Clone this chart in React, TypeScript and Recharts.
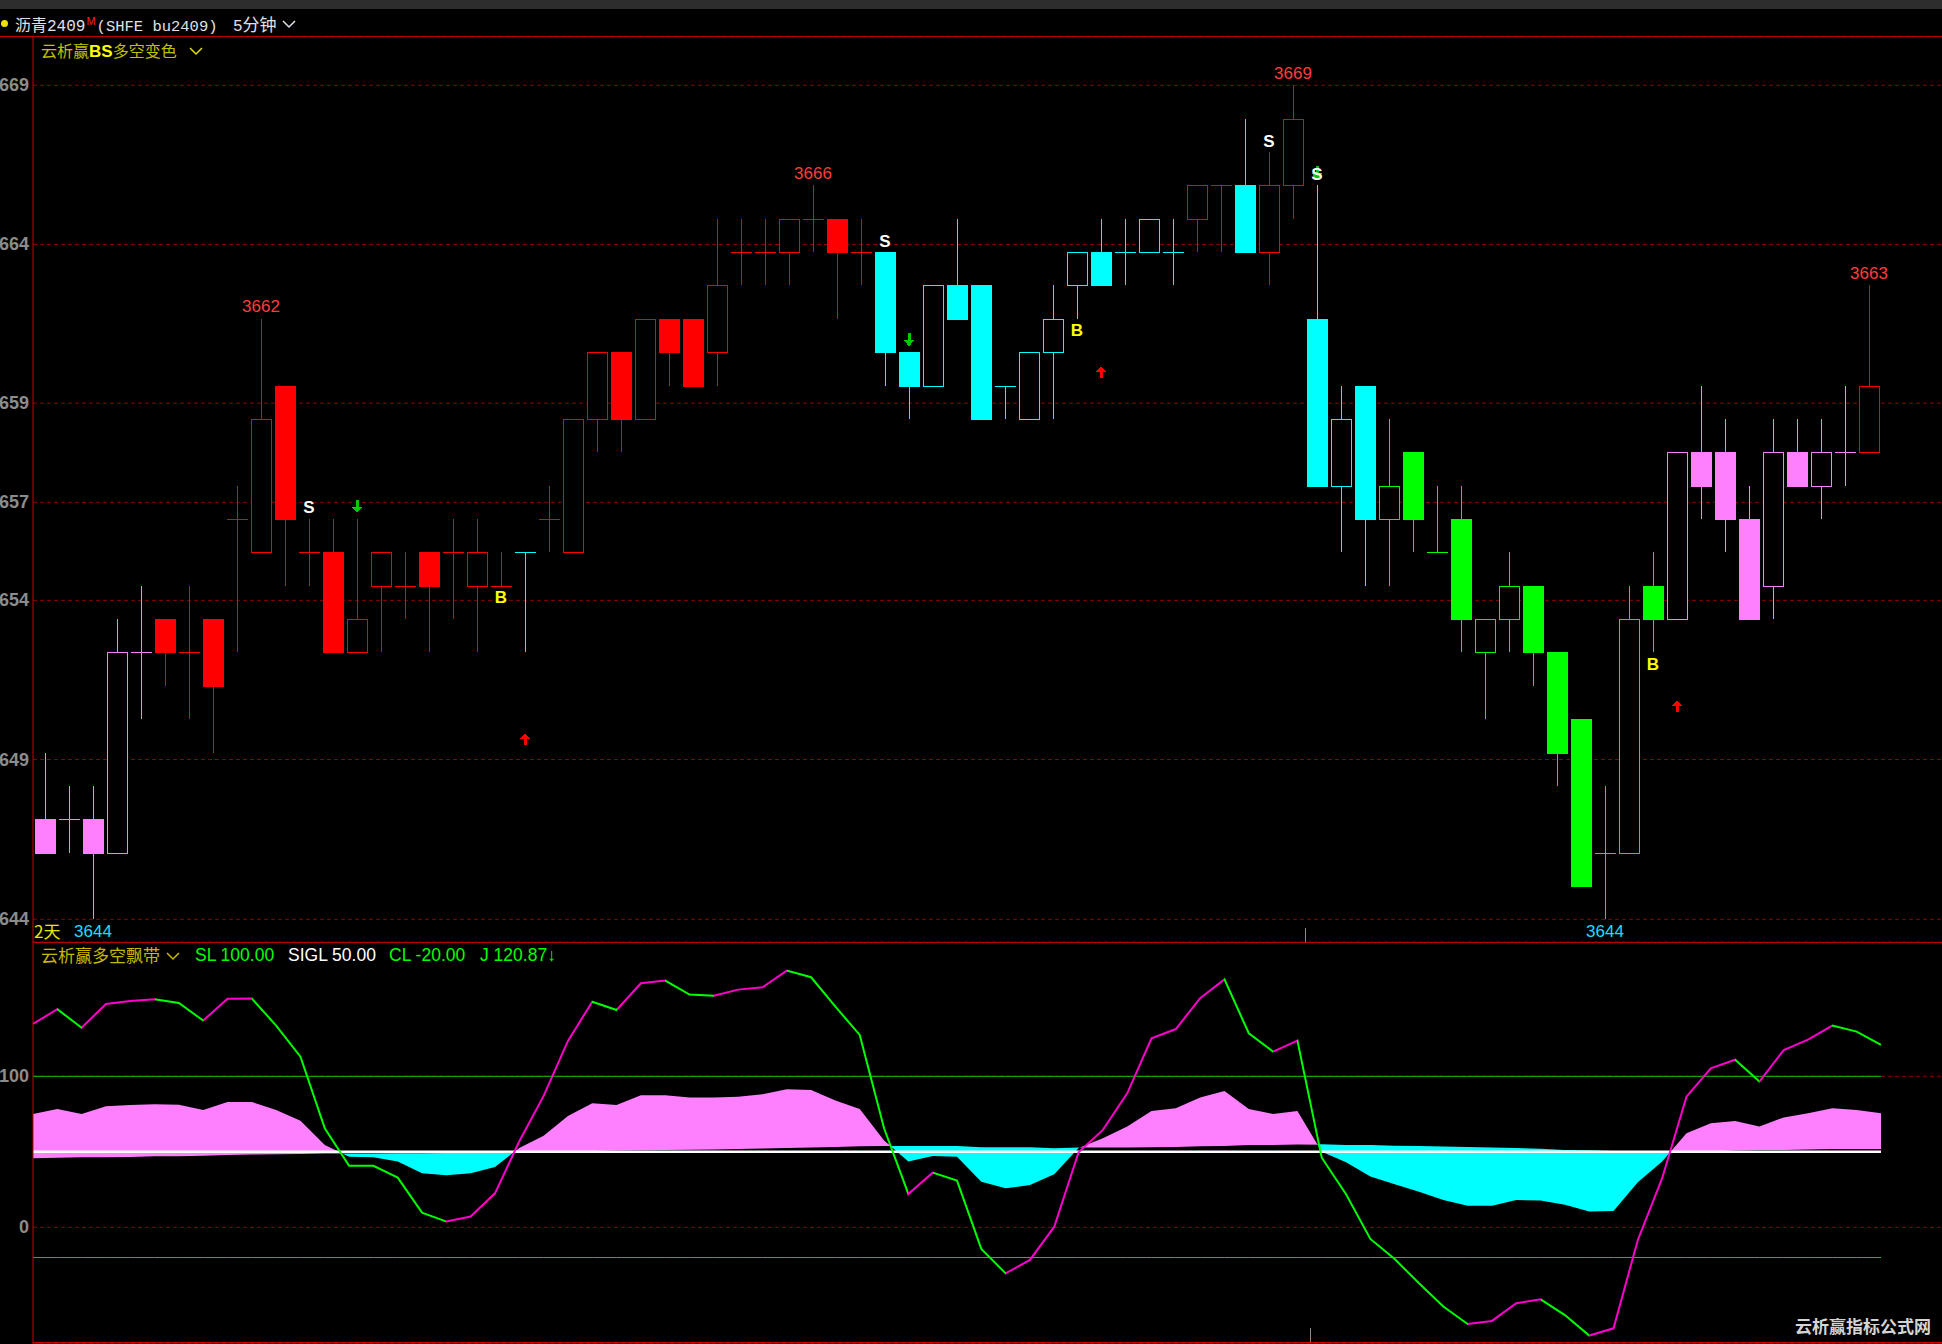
import React from 'react';
import { ComposedChart, Bar, Line, Area, XAxis, YAxis, CartesianGrid, ReferenceDot } from 'recharts';

// ---------- main panel data (5-minute candles) ----------
const OPEN = [3647,3647,3647,3646,3652, 3653,3652,3653,3656,3655, 3660,3655,3655,3652,3654, 3654,3655,3655,3654,3654, 3655,3656,3655,3659,3661, 3659,3662,3662,3661,3664, 3664,3664,3665,3665,3664, 3664,3661,3660,3663,3663, 3660,3659,3661,3663,3664, 3664,3664,3664,3665,3666, 3666,3664,3666,3662,3657, 3660,3656,3658,3655,3656, 3652,3653,3654,3652,3650, 3646,3646,3654,3653,3658, 3658,3656,3654,3658,3657, 3658,3658];
const HIGH = [3649,3648,3648,3653,3654, 3653,3654,3653,3657,3662, 3660,3656,3656,3656,3655, 3655,3655,3656,3656,3655, 3655,3657,3659,3661,3661, 3662,3662,3662,3665,3665, 3665,3665,3666,3665,3665, 3664,3661,3663,3665,3663, 3660,3661,3663,3664,3665, 3665,3665,3665,3666,3666, 3668,3667,3669,3666,3660, 3660,3659,3658,3657,3657, 3653,3655,3654,3652,3650, 3648,3654,3655,3658,3660, 3659,3657,3659,3659,3659, 3660,3663];
const LOW = [3646,3646,3644,3646,3650, 3651,3650,3649,3652,3655, 3654,3654,3652,3652,3652, 3653,3652,3653,3652,3654, 3652,3655,3655,3658,3658, 3659,3660,3660,3660,3663, 3663,3663,3664,3662,3663, 3660,3659,3660,3662,3659, 3659,3659,3659,3662,3663, 3663,3664,3663,3664,3664, 3664,3663,3665,3657,3655, 3654,3654,3655,3655,3652, 3650,3652,3651,3648,3645, 3644,3646,3652,3653,3656, 3655,3653,3653,3657,3656, 3657,3658];
const CLOSE = [3646,3647,3646,3652,3652, 3652,3652,3651,3656,3659, 3656,3655,3652,3653,3655, 3654,3654,3655,3655,3654, 3655,3656,3659,3661,3659, 3662,3661,3660,3663,3664, 3664,3665,3665,3664,3664, 3661,3660,3663,3662,3659, 3660,3661,3662,3664,3663, 3664,3665,3664,3666,3666, 3664,3666,3668,3657,3659, 3656,3657,3656,3655,3653, 3653,3654,3652,3649,3645, 3646,3653,3653,3658,3657, 3656,3653,3658,3657,3658, 3658,3660];
const CANDLE_COLOR = [
  'pink','pink','pink','pink','pink',
  'red','red','red','red','red','red','red','red','red','red','red','red','red','red','red',
  'cyan',
  'red','red','red','red','red','red','red','red','red','red','red','red','red','red',
  'cyan','cyan','cyan','cyan','cyan','cyan','cyan','cyan','cyan','cyan','cyan','cyan','cyan',
  'red','red',
  'cyan',
  'red','red',
  'cyan','cyan','cyan',
  'green','green','green','green','green','green','green','green','green','green','green','green',
  'pink','pink','pink','pink','pink','pink','pink','pink',
  'red',
];

const SELL_AT = [11, 35, 51, 53];
const BUY_AT = [19, 43, 67];
const DOWN_ARROW_AT = [13, 36, 53];
const UP_ARROW_AT = [20, 44, 68];
const HIGH_LABEL_AT = [9, 32, 52, 76];
const LOW_LABEL_AT = [2, 65];
const DAY_START_AT = [53];

const PRICE_TICKS = [3644, 3648.79, 3653.56, 3656.5, 3659.47, 3664.23, 3669];
const PRICE_TICK_LABELS = ['644', '649', '654', '657', '659', '664', '669'];
const PRICE_MIN = 3643.32;
const PRICE_MAX = 3670.478;

// ---------- lower panel data (云析赢多空飘带) ----------
const J_LINE = [134.7,144.4,132.2,147.9,149.9,151.0,148.6,136.9,151.4,151.5, 133.6,113.0,65.6,40.8,40.7,32.9,9.7,3.8,7.1,22.5, 57.0,87.0,123.4,149.4,143.9,161.6,163.4,154.1,153.4,157.4, 158.9,170.0,165.6,146.1,127.4,65.6,22.1,36.2,30.9,-14.3, -30.5,-21.6,0.4,49.7,64.5,88.7,125.2,131.3,151.7,164.2, 128.5,116.3,123.6,46.1,21.9,-7.7,-21.0,-37.1,-52.5,-64.0, -62.0,-50.3,-47.7,-58.1,-71.7,-66.9,-8.4,32.5,86.5,105.3, 111.0,96.5,117.4,124.3,133.6,129.6,120.87];
const BAND_FAST = [75.1,78.4,75.1,80.1,81.0,81.5,81.2,77.7,83.0,83.0, 77.7,70.6,54.5,46.8,46.4,43.5,35.8,34.4,35.8,40.0, 52.5,60.7,73.7,82.1,81.0,87.4,87.4,85.9,85.9,86.5, 88.1,91.4,90.9,83.9,78.4,57.5,43.5,47.2,46.8,30.2, 25.8,28.0,35.1,52.6,58.9,66.7,77.0,78.8,85.9,90.3, 78.4,75.1,77.0,50.0,43.0,33.6,28.5,23.6,18.1,14.3, 14.3,18.1,17.7,15.0,10.4,10.8,29.8,43.5,62.3,68.9, 70.4,66.7,72.8,75.5,78.8,77.7,75.5];
const BAND_SLOW = [45.7,46.0,46.4,46.4,46.6,47.0,47.0,47.4,47.9,48.2, 48.4,48.6,48.8,48.8,48.9,49.0,49.1,49.2,49.3,49.5, 49.8,50.2,50.5,50.6,50.8,51.0,51.2,51.4,51.6,51.9, 52.2,52.6,52.8,53.2,53.6,53.9,53.9,53.9,53.9,53.0, 53.0,53.0,52.3,52.8,52.8,52.8,53.0,53.2,53.6,53.9, 54.5,54.5,54.8,55.0,54.5,54.5,54.0,53.9,53.5,53.2, 52.8,52.5,52.0,51.2,51.0,50.6,50.3,50.1,50.1,50.2, 50.8,51.2,51.2,51.6,51.9,51.9,51.9];
const SL = 100;
const SIGL = 50;
const CL = -20;
const IND_TICKS = [0, 100];
const IND_TICK_LABELS = ['0', '100'];
const IND_MIN = -77.28;
const IND_MAX = 188.94;

// ---------- styles ----------
const COLOR_HEX: Record<string, string> = { pink: '#ff80ff', red: '#ff0000', cyan: '#00ffff', green: '#00ff00' };
const AXIS_RED = '#cc0000';
const GRID_RED = '#8c0000';
const MAGENTA = '#ff00cc';
const LIME = '#00ff00';
const PAD_R = 61;
const SANS = '"Liberation Sans", Arial, sans-serif';
const CJK = '"Noto Sans CJK SC", "Liberation Sans", sans-serif';
const MONO = '"Liberation Mono", "Noto Sans CJK SC", monospace';

const mainRows = OPEN.map((o, i) => ({ i, o, h: HIGH[i], l: LOW[i], c: CLOSE[i], col: CANDLE_COLOR[i] }));
const lowRows = J_LINE.map((j, i) => ({ i, j, a: BAND_FAST[i], b: BAND_SLOW[i], sl: SL, sigl: SIGL, cl: CL }));

const N = J_LINE.length;
const jStops: { off: number; col: string }[] = [];
for (let k = 0; k < N - 1; k++) {
  const col = J_LINE[k + 1] > J_LINE[k] ? MAGENTA : LIME;
  jStops.push({ off: k / (N - 1), col }, { off: (k + 1) / (N - 1), col });
}
const bandStops: { off: number; col: string }[] = [];
for (let k = 0; k < N - 1; k++) {
  const d0 = BAND_FAST[k] - BAND_SLOW[k];
  const d1 = BAND_FAST[k + 1] - BAND_SLOW[k + 1];
  const c0 = d0 >= 0 ? COLOR_HEX.pink : COLOR_HEX.cyan;
  const c1 = d1 >= 0 ? COLOR_HEX.pink : COLOR_HEX.cyan;
  if (c0 === c1) {
    bandStops.push({ off: k / (N - 1), col: c0 }, { off: (k + 1) / (N - 1), col: c0 });
  } else {
    const t = d0 / (d0 - d1);
    const mid = (k + t) / (N - 1);
    bandStops.push({ off: k / (N - 1), col: c0 }, { off: mid, col: c0 }, { off: mid, col: c1 }, { off: (k + 1) / (N - 1), col: c1 });
  }
}

function Candle(props: any) {
  const { x, y, width, height, payload } = props;
  if (x == null || y == null || !payload) return null;
  const { o, h, l, c, col } = payload;
  const top = Math.min(y, y + height);
  const bot = Math.max(y, y + height);
  const k = (bot - top) / (h - l);
  const py = (p: number) => Math.round(top + (h - p) * k);
  const left = Math.round(x);
  const w = Math.round(width);
  const cx = left + Math.floor(w / 2) + 0.5;
  const s = COLOR_HEX[col];
  const yh = py(h);
  const yl = py(l);
  const els: React.ReactNode[] = [];
  if (c < o) {
    const yt = py(o), yb = py(c);
    els.push(<line key="w" x1={cx} x2={cx} y1={yh} y2={yl} stroke={s} strokeWidth={1} />);
    els.push(<rect key="b" x={left} y={yt} width={w} height={Math.max(1, yb - yt + 1)} fill={s} />);
  } else if (c > o) {
    const yt = py(c), yb = py(o);
    if (yh < yt) els.push(<line key="u" x1={cx} x2={cx} y1={yh} y2={yt} stroke={s} strokeWidth={1} />);
    if (yl > yb) els.push(<line key="d" x1={cx} x2={cx} y1={yb} y2={yl} stroke={s} strokeWidth={1} />);
    els.push(<rect key="b" x={left + 0.5} y={yt + 0.5} width={w - 1} height={yb - yt} fill="#000" stroke={s} strokeWidth={1} />);
  } else {
    const ym = py(o) + 0.5;
    els.push(<line key="w" x1={cx} x2={cx} y1={yh} y2={yl} stroke={s} strokeWidth={1} />);
    els.push(<line key="h" x1={left} x2={left + w} y1={ym} y2={ym} stroke={s} strokeWidth={1} />);
  }
  return <g shapeRendering="crispEdges">{els}</g>;
}

const sellShape = (p: any) => (
  <text x={p.cx} y={p.cy - 11} textAnchor="middle" dominantBaseline="central" fill="#ffffff" fontWeight="bold" fontSize={17} fontFamily={SANS}>S</text>
);
const buyShape = (p: any) => (
  <text x={p.cx} y={p.cy + 12} textAnchor="middle" dominantBaseline="central" fill="#ffff00" fontWeight="bold" fontSize={17} fontFamily={SANS}>B</text>
);
const downArrowShape = (p: any) => {
  const cx = p.cx, cy = p.cy - 12;
  return (
    <g fill="#00c800" shapeRendering="crispEdges">
      <rect x={cx - 1.5} y={cy - 7} width={3} height={8} />
      <polygon points={`${cx - 5.5},${cy} ${cx + 5.5},${cy} ${cx},${cy + 6}`} />
    </g>
  );
};
const upArrowShape = (p: any) => {
  const cx = p.cx, cy = p.cy + 87;
  return (
    <g fill="#ff0000" shapeRendering="crispEdges">
      <polygon points={`${cx - 5.5},${cy} ${cx + 5.5},${cy} ${cx},${cy - 6}`} />
      <rect x={cx - 1.5} y={cy - 1} width={3} height={7} />
    </g>
  );
};
const highLabelShape = (label: string) => (p: any) => (
  <text x={p.cx} y={p.cy - 12} textAnchor="middle" dominantBaseline="central" fill="#ff3c3c" fontSize={17} fontFamily={SANS}>{label}</text>
);
const lowLabelShape = (label: string) => (p: any) => (
  <text x={p.cx} y={p.cy + 12} textAnchor="middle" dominantBaseline="central" fill="#1edcff" fontSize={17} fontFamily={SANS}>{label}</text>
);
const dayTickShape = (p: any) => (
  <line x1={Math.round(p.cx - 12) + 0.5} x2={Math.round(p.cx - 12) + 0.5} y1={p.cy - 14} y2={p.cy} stroke="#8a8a8a" strokeWidth={1} shapeRendering="crispEdges" />
);

const makeTick = (values: number[], labels: string[]) => (props: any) => {
  const { y, payload } = props;
  const idx = values.indexOf(payload.value);
  return (
    <text x={29} y={y} textAnchor="end" dominantBaseline="central" fill="#8c8c8c" fontSize={18} fontWeight="bold" fontFamily={SANS}>
      {idx >= 0 ? labels[idx] : ''}
    </text>
  );
};

const Chevron = ({ left, top, color }: { left: number; top: number; color: string }) => (
  <svg style={{ position: 'absolute', left, top }} width={14} height={10}>
    <polyline points="1,2 7,8 13,2" fill="none" stroke={color} strokeWidth={1.5} />
  </svg>
);

export default function App() {
  return (
    <div style={{ position: 'relative', width: 1942, height: 1344, background: '#000', overflow: 'hidden', fontFamily: SANS }}>
      <style>{`html,body{margin:0;padding:0;background:#000;}`}</style>
      {/* top strip */}
      <div style={{ position: 'absolute', left: 0, top: 0, width: 1942, height: 9, background: '#2d2d2d' }} />
      {/* title row */}
      <div style={{ position: 'absolute', left: 1, top: 20, width: 7, height: 7, borderRadius: 4, background: '#f0e000' }} />
      <div style={{ position: 'absolute', left: 15, top: 12, height: 24, lineHeight: '24px', fontSize: 16, color: '#e0e0ea', whiteSpace: 'nowrap', fontFamily: MONO }}>
        <span style={{ fontFamily: CJK }}>沥青</span>2409
        <span style={{ color: '#ff2020', fontSize: 11, position: 'relative', top: -6, marginLeft: 1, fontFamily: SANS }}>M</span>
        <span style={{ marginLeft: 1, fontSize: 15.5 }}>(SHFE bu2409)</span>
      </div>
      <div style={{ position: 'absolute', left: 233, top: 12, height: 24, lineHeight: '24px', fontSize: 16, color: '#e0e0ea', whiteSpace: 'nowrap', fontFamily: MONO }}>
        5<span style={{ fontFamily: CJK, fontSize: 17 }}>分钟</span>
      </div>
      <Chevron left={282} top={19} color="#e0e0ea" />
      <div style={{ position: 'absolute', left: 0, top: 36, width: 1942, height: 1, background: AXIS_RED }} />

      {/* main price panel */}
      <div style={{ position: 'absolute', left: 0, top: 36 }}>
        <ComposedChart width={1942} height={906} data={mainRows} margin={{ top: 0, right: 0, bottom: 0, left: 0 }}>
          <XAxis dataKey="i" hide padding={{ left: 0, right: PAD_R }} />
          <YAxis type="number" domain={[PRICE_MIN, PRICE_MAX]} allowDataOverflow ticks={PRICE_TICKS} interval={0} width={33}
            axisLine={{ stroke: AXIS_RED }} tickLine={false} tickSize={0} tickMargin={4} tick={makeTick(PRICE_TICKS, PRICE_TICK_LABELS)} />
          <CartesianGrid vertical={false} stroke={GRID_RED} strokeDasharray="4 3" />
          <Bar dataKey={(d: any) => [d.l, d.h]} barSize={21} isAnimationActive={false} shape={(p: any) => <Candle {...p} />} />
          {DAY_START_AT.map((i) => (
            <ReferenceDot key={'day' + i} x={i} y={PRICE_MIN} r={0} ifOverflow="visible" shape={dayTickShape} />
          ))}
          {HIGH_LABEL_AT.map((i) => (
            <ReferenceDot key={'hl' + i} x={i} y={HIGH[i]} r={0} ifOverflow="visible" shape={highLabelShape(String(HIGH[i]))} />
          ))}
          {LOW_LABEL_AT.map((i) => (
            <ReferenceDot key={'ll' + i} x={i} y={LOW[i]} r={0} ifOverflow="visible" shape={lowLabelShape(String(LOW[i]))} />
          ))}
          {DOWN_ARROW_AT.map((i) => (
            <ReferenceDot key={'da' + i} x={i} y={HIGH[i]} r={0} ifOverflow="visible" shape={downArrowShape} />
          ))}
          {SELL_AT.map((i) => (
            <ReferenceDot key={'s' + i} x={i} y={HIGH[i]} r={0} ifOverflow="visible" shape={sellShape} />
          ))}
          {BUY_AT.map((i) => (
            <ReferenceDot key={'b' + i} x={i} y={LOW[i]} r={0} ifOverflow="visible" shape={buyShape} />
          ))}
          {UP_ARROW_AT.map((i) => (
            <ReferenceDot key={'ua' + i} x={i} y={LOW[i]} r={0} ifOverflow="visible" shape={upArrowShape} />
          ))}
        </ComposedChart>
      </div>

      {/* main panel labels */}
      <div style={{ position: 'absolute', left: 41, top: 40, height: 20, lineHeight: '20px', fontSize: 16, color: '#c0c000', whiteSpace: 'nowrap', fontFamily: CJK }}>
        云析赢<span style={{ color: '#ffff00', fontWeight: 'bold', fontFamily: SANS, fontSize: 17 }}>BS</span>多空变色
      </div>
      <Chevron left={189} top={46} color="#e0e000" />
      <div style={{ position: 'absolute', left: 34, top: 921, height: 20, lineHeight: '20px', fontSize: 17, color: '#e8e800', whiteSpace: 'nowrap', fontFamily: CJK }}>
        2天
      </div>

      {/* separator */}
      <div style={{ position: 'absolute', left: 33, top: 942, width: 1909, height: 1, background: AXIS_RED }} />

      {/* indicator panel */}
      <div style={{ position: 'absolute', left: 0, top: 942 }}>
        <ComposedChart width={1942} height={402} data={lowRows} margin={{ top: 0, right: 0, bottom: 0, left: 0 }}>
          <defs>
            <linearGradient id="jGrad" x1="0" y1="0" x2="1" y2="0">
              {jStops.map((s, k) => <stop key={k} offset={s.off} stopColor={s.col} />)}
            </linearGradient>
            <linearGradient id="bandGrad" x1="0" y1="0" x2="1" y2="0">
              {bandStops.map((s, k) => <stop key={k} offset={s.off} stopColor={s.col} />)}
            </linearGradient>
          </defs>
          <XAxis dataKey="i" hide padding={{ left: 0, right: PAD_R }} />
          <YAxis type="number" domain={[IND_MIN, IND_MAX]} allowDataOverflow ticks={IND_TICKS} interval={0} width={33}
            axisLine={{ stroke: AXIS_RED }} tickLine={false} tickSize={0} tickMargin={4} tick={makeTick(IND_TICKS, IND_TICK_LABELS)} />
          <CartesianGrid vertical={false} stroke={GRID_RED} strokeDasharray="4 3" />
          <Area dataKey={(d: any) => [d.b, d.a]} type="linear" stroke="none" fill="url(#bandGrad)" fillOpacity={1} isAnimationActive={false} />
          <Line dataKey="sl" type="linear" stroke="#00d000" strokeWidth={1} dot={false} activeDot={false} isAnimationActive={false} />
          <Line dataKey="cl" type="linear" stroke="#00d000" strokeWidth={1} dot={false} activeDot={false} isAnimationActive={false} />
          <Line dataKey="sigl" type="linear" stroke="#ffffff" strokeWidth={2.5} dot={false} activeDot={false} isAnimationActive={false} />
          <Line dataKey="j" type="linear" stroke="url(#jGrad)" strokeWidth={2} dot={false} activeDot={false} isAnimationActive={false} />
          {DAY_START_AT.map((i) => (
            <ReferenceDot key={'day2' + i} x={i} y={IND_MIN} r={0} ifOverflow="visible" shape={(p: any) => dayTickShape({ ...p, cy: p.cy - 2 })} />
          ))}
        </ComposedChart>
      </div>
      <div style={{ position: 'absolute', left: 33, top: 1342, width: 1909, height: 1, background: AXIS_RED }} />

      {/* indicator legend */}
      <div style={{ position: 'absolute', left: 41, top: 945, height: 20, lineHeight: '20px', fontSize: 17, color: '#c8b800', whiteSpace: 'nowrap', fontFamily: CJK }}>
        云析赢多空飘带
      </div>
      <Chevron left={166} top={951} color="#c8b800" />
      <div style={{ position: 'absolute', left: 195, top: 945, height: 20, lineHeight: '20px', fontSize: 17.5, color: '#00ff00', whiteSpace: 'nowrap' }}>SL 100.00</div>
      <div style={{ position: 'absolute', left: 288, top: 945, height: 20, lineHeight: '20px', fontSize: 17.5, color: '#ffffff', whiteSpace: 'nowrap' }}>SIGL 50.00</div>
      <div style={{ position: 'absolute', left: 389, top: 945, height: 20, lineHeight: '20px', fontSize: 17.5, color: '#00ff00', whiteSpace: 'nowrap' }}>CL -20.00</div>
      <div style={{ position: 'absolute', left: 480, top: 945, height: 20, lineHeight: '20px', fontSize: 17.5, color: '#00ff00', whiteSpace: 'nowrap' }}>J 120.87↓</div>

      {/* watermark */}
      <div style={{ position: 'absolute', left: 1795, top: 1315, height: 22, lineHeight: '22px', fontSize: 17, fontWeight: 'bold', color: '#d4d4d4', whiteSpace: 'nowrap', fontFamily: CJK }}>
        云析赢指标公式网
      </div>
    </div>
  );
}
